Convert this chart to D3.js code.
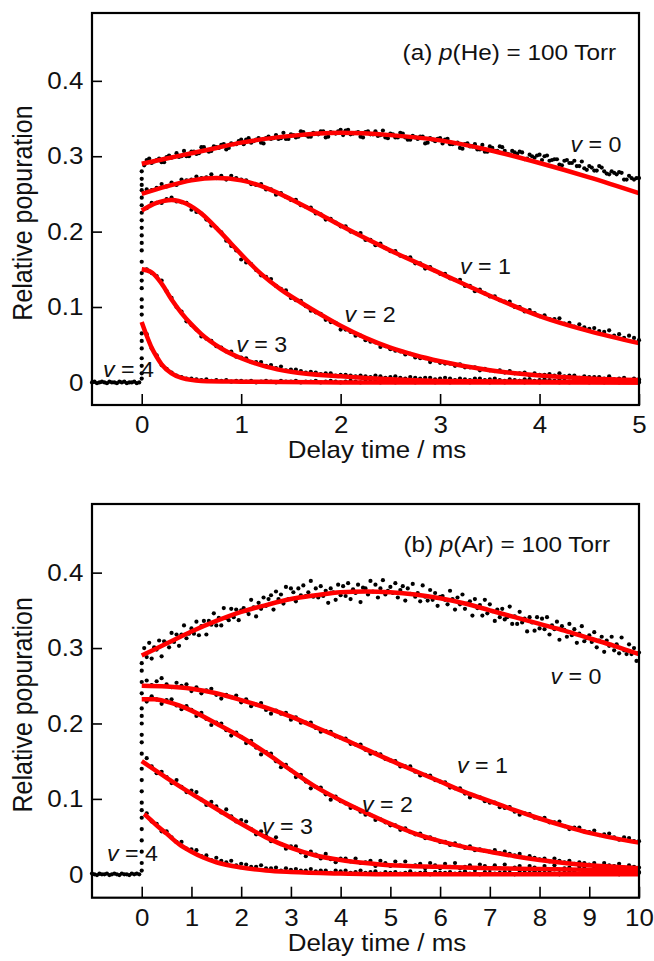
<!DOCTYPE html>
<html>
<head>
<meta charset="utf-8">
<script src="https://cdnjs.cloudflare.com/ajax/libs/d3/7.8.5/d3.min.js"></script>
<style>
body { margin: 0; background: #fff; }
svg text { font-family: "Liberation Sans", Arial, sans-serif; fill: #111; }
</style>
</head>
<body>
<svg id="chart" width="654" height="961"></svg>
<script>
// RELATIVE POPULATION vs DELAY TIME, two panels (He / Ar)

// measured points are written in thousandths (x 0.001)
var MILLI = 0.001;

// --- panel (a), He, one point every 0.05 ms from 0.05 to 5 ms
var heV0 = [295,291,295,292,299,298,304,300,300,306, 303,312,308,307,312,315,309,317,316,322,
            322,318,322,318,324,323,328,324,323,329, 325,333,328,326,330,333,325,332,330,335,
            334,329,331,326,332,329,333,328,325,330, 325,331,325,322,325,326,317,324,320,324,
            322,316,317,311,316,313,316,309,306,313, 307,313,307,302,305,306,296,302,298,302,
            300,294,296,289,294,291,294,287,284,287, 281,287,280,276,278,279,269,274,269,271];
// v=0 in between, from 0.025 ms
var heV0b = [288,297,293,297,292,301,299,299,307,300, 306,304,312,306,313,311,316,311,316,320,
             316,324,320,324,317,326,324,323,331,323, 328,326,332,326,331,329,333,326,331,333,
             328,335,330,332,325,333,329,327,334,324, 329,325,330,322,327,323,326,318,322,323,
             317,323,316,318,310,317,313,309,315,306, 311,307,312,303,307,303,305,297,300,301,
             295,301,295,296,288,295,291,287,293,282, 285,281,285,277,280,276,278,269,271,271];
var heV1 = [256,255,258,263,260,265,262,269,268,269, 273,271,272,276,271,274,269,274,271,269,
            268,263,262,263,256,256,249,251,246,242, 242,235,233,232,224,223,216,217,212,207,
            207,200,198,198,189,189,182,184,178,174, 174,168,166,166,158,158,151,153,148,144,
            144,138,136,136,128,128,121,123,118,114, 114,109,107,107,100,100,94,96,92,88,
            89,84,84,85,78,79,74,77,73,71, 72,68,67,69,62,64,59,62,59,56];
var heV2 = [231,238,238,238,243,245,240,239,238,229, 226,224,216,208,205,199,188,181,175,163,
            159,157,149,142,140,137,128,124,122,112, 109,108,101,95,93,91,83,80,79,70,
            70,67,62,62,56,54,53,47,48,44, 42,41,37,38,33,32,32,27,29,26,
            25,25,22,24,20,20,20,16,18,16, 15,16,13,15,12,12,13,9,12,10,
            10,11,9,12,8,9,9,6,8,7, 7,7,5,8,4,5,6,3,5,4];
var heV3 = [150,145,141,135,121,112,100,94,81,76, 70,61,58,55,48,46,41,41,34,33,
            32,27,27,27,22,23,19,21,16,17, 17,15,13,14,13,11,12,12,9,10,
            10,9,8,9,8,7,9,8,6,7, 8,6,5,7,6,5,6,6,4,5,
            6,5,3,5,4,3,5,5,3,4, 5,3,2,4,3,2,4,4,2,3,
            4,3,2,3,2,1,3,3,1,2, 3,2,1,3,2,1,3,3,1,2];
var heV4 = [64,45,36,23,18,13,9,7,5,5, 4,3,4,2,3,2,3,1,2,2,
            1,2,0,1,2,1,0,2,1,1, 2,0,1,1,2,0,1,2,1,0,
            1,2,1,0,1,1,2,0,1,1, 0,1,2,1,0,1,1,2,0,1,
            1,0,2,1,1,0,1,2,1,0, 2,1,0,1,1,2,0,1,1,0,
            1,2,1,0,1,0,2,1,1,0, 1,1,0,2,1,0,1,1,2,0];
// before the pulse, every 0.025 ms from -0.5 ms
var heBase = [0,1,-1,0,1,0,-1,1,0,0,-1,1,0,1,-1,0,0,1,-1,0];
// points caught during the rise at t = 0
var heRise = [5,12,22,32,45,55,65,90,100,110,125,135,145,160,175,185,195,205,215,225,235,245,255,262,270,280];

// fitted curves (a)
var heFitV0t = [0,0.25,0.5,0.75,1,1.5,2,2.5,3,3.5,4,4.5,5];
var heFitV0 = [.290,.297,.304,.311,.318,.327,.331,.328,.321,.308,.291,.272,.251];
var heFitV1t = [0,0.25,0.5,0.75,1,1.25,1.5,1.75,2,2.5,3,3.5,4,4.5,5];
var heFitV1 = [.250,.260,.268,.271,.268,.258,.243,.226,.208,.175,.145,.115,.088,.068,.052];
var heFitV2t = [0,0.15,0.3,0.45,0.6,0.75,0.9,1.05,1.2,1.4,1.6,1.8,2,2.25,2.5,2.75,3,3.5,4,4.5,5];
var heFitV2 = [.228,.238,.242,.237,.224,.205,.184,.163,.144,.123,.106,.090,.075,.059,.046,.036,.028,.016,.009,.005,.003];
var heFitV3t = [0,0.1,0.2,0.3,0.4,0.5,0.6,0.8,1,1.25,1.5,2,2.5,3,4,5];
var heFitV3 = [.150,.146,.131,.110,.092,.077,.064,.045,.032,.021,.014,.008,.004,.002,.001,0];
var heFitV4t = [0,0.05,0.1,0.15,0.2,0.3,0.4,0.6,1,2,5];
var heFitV4 = [.080,.062,.046,.034,.024,.012,.006,.002,.001,0,0];

// --- panel (b), Ar. v=0 every 0.05 ms, the others every 0.1 ms, up to 10 ms
var arV0 = [300,288,307,286,301,298,310,289,309,307, 301,320,308,318,303,318,330,313,319,326,
            319,335,317,329,336,318,336,331,346,330, 340,330,353,340,337,352,341,351,337,350,
            353,349,345,364,354,342,360,352,367,356, 365,370,351,375,365,371,359,381,365,379,
            374,362,379,370,383,369,374,389,368,379, 367,382,369,376,360,379,374,364,384,370,
            382,369,386,365,378,373,384,361,380,379, 371,389,375,384,367,379,390,371,376,381,
            373,386,367,377,382,363,379,372,385,368, 373,362,383,368,363,377,364,373,356,368,
            369,364,358,376,365,351,367,358,371,352, 359,362,343,365,353,357,343,364,346,358,
            349,336,351,341,352,338,341,355,332,342, 332,348,334,339,322,341,334,323,341,326,
            339,325,341,318,330,325,335,311,329,324, 315,332,317,325,307,319,329,309,313,317,
            308,321,301,310,315,295,310,303,315,297, 305,293,314,297,292,305,292,300,283,294];
var arV1 = [257,251,256,260,252,248,254,250,252,243, 248,240,244,246,238,233,238,235,237,228,
            232,223,225,227,218,213,217,213,214,205, 208,201,201,201,194,189,190,189,183,181,
            180,173,172,172,165,160,161,159,153,151, 150,143,143,143,136,131,132,131,125,123,
            122,115,114,114,107,102,104,102,97,95, 95,89,88,89,83,79,81,80,75,74,
            75,69,69,70,64,60,62,62,57,56, 58,52,53,54,49,46,49,48,44,44];
var arV2 = [229,236,232,226,231,232,224,219,223,218, 210,214,206,198,201,200,191,184,188,182,
            174,177,168,159,162,160,150,142,145,138, 129,132,123,114,116,115,106,99,103,97,
            94,88,88,83,79,79,72,73,69,65, 65,59,61,56,53,54,48,49,46,43,
            43,39,41,38,35,37,32,33,31,30, 32,28,30,27,25,27,22,24,22,20,
            21,17,21,18,16,18,14,16,15,13, 15,11,15,12,11,14,9,12,10,9];
var arV3 = [154,143,134,136,129,121,125,116,109,111, 109,99,92,96,90,82,86,77,70,72,
            70,60,53,57,51,44,49,40,34,37, 37,29,24,30,26,21,27,20,16,21,
            21,17,21,15,16,18,11,18,15,11, 17,12,17,11,12,14,8,15,12,8,
            14,10,15,8,10,12,6,13,11,7, 12,8,13,7,9,11,5,11,9,5,
            11,7,12,6,8,9,3,10,8,4, 10,6,11,5,7,9,2,9,7,3];
var arV4 = [81,70,67,57,57,49,43,43,34,33, 32,24,25,19,22,18,16,18,12,14,
            13,10,10,12,8,8,9,5,8,6, 7,5,5,7,4,5,5,2,5,4,
            5,2,3,5,2,3,4,1,3,2, 3,1,2,4,1,2,3,0,3,2,
            2,3,1,2,4,1,2,0,3,2, 1,2,3,2,0,3,1,2,4,1,
            2,3,1,0,2,3,2,1,3,2, 1,2,4,2,1,0,2,3,1,2];
// before the pulse, every 0.05 ms from -1 ms
var arBase = [1,0,-1,1,0,0,1,-1,0,1,0,-1,1,0,0,-1,1,0,1,0];
var arRise = [5,15,30,45,60,75,85,95,110,125,140,160,175,185,200,210,220,240,255,270,280];

// fitted curves (b)
var arFitV0t = [0,0.5,1,1.5,2,2.5,3,3.5,4,4.5,5,5.5,6,6.5,7,7.5,8,8.5,9,9.5,10];
var arFitV0 = [.290,.306,.322,.336,.348,.357,.365,.370,.374,.375,.374,.371,.366,.359,.350,.341,.332,.323,.313,.303,.292];
var arFitV1t = [0,0.5,1,1.5,2,2.5,3,3.5,4,4.5,5,5.5,6,6.5,7,7.5,8,8.5,9,9.5,10];
var arFitV1 = [.250,.249,.246,.240,.231,.221,.209,.195,.181,.166,.151,.137,.123,.109,.097,.085,.074,.064,.055,.048,.042];
var arFitV2t = [0,0.25,0.5,0.75,1,1.5,2,2.5,3,3.5,4,4.5,5,5.5,6,6.5,7,7.5,8,8.5,9,9.5,10];
var arFitV2 = [.232,.232,.229,.224,.217,.200,.182,.161,.138,.116,.098,.082,.067,.054,.044,.036,.030,.024,.019,.015,.012,.010,.008];
var arFitV3t = [0,0.5,1,1.5,2,2.5,3,3.5,4,4.5,5,6,7,8,9,10];
var arFitV3 = [.150,.128,.107,.087,.067,.049,.035,.025,.019,.015,.012,.010,.008,.007,.006,.006];
var arFitV4t = [0.05,0.2,0.35,0.5,0.75,1,1.25,1.5,2,2.5,3,4,5,10];
var arFitV4 = [.080,.071,.062,.054,.040,.030,.022,.016,.009,.005,.003,.001,0,0];

// labels: [delay time, population] of the text start
var vNames = ["0","1","2","3","4"];
var heLabelPos = [[4.31,.306],[3.20,.144],[2.04,.0805],[0.95,.040],[-0.39,.0076]];
var arLabelPos = [[8.22,.253],[6.34,.135],[4.43,.083],[2.42,.053],[-0.70,.018]];
var yTickValues = [0,0.1,0.2,0.3,0.4];
var heXTicks = [0,1,2,3,4,5];
var arXTicks = [0,1,2,3,4,5,6,7,8,9,10];


// DRAWING AREA
var svg = d3.select("#chart");
var left = 92, right = 639;
var SX = 1.08;   // the original lettering is slightly wide

// series: [values, step, first time]
var panels = [
	{
		xDomain: [-0.5, 5], yDomain: [-0.03, 0.49], top: 13, bottom: 405,
		xTicks: heXTicks, gas: "He", tag: "(a) ", tagAt: [4.77, .428],
		base: heBase, baseStart: -0.5, baseStep: 0.025, rise: heRise,
		series: [[heV0, 0.05, 0.05], [heV0b, 0.05, 0.025], [heV1, 0.05, 0.05], [heV2, 0.05, 0.05],
		         [heV3, 0.05, 0.05], [heV4, 0.05, 0.05]],
		fits: [[heFitV0t, heFitV0], [heFitV1t, heFitV1], [heFitV2t, heFitV2], [heFitV3t, heFitV3], [heFitV4t, heFitV4]],
		labels: heLabelPos
	},
	{
		xDomain: [-1, 10], yDomain: [-0.031, 0.491], top: 504, bottom: 897.7,
		xTicks: arXTicks, gas: "Ar", tag: "(b) ", tagAt: [9.42, .428],
		base: arBase, baseStart: -1, baseStep: 0.05, rise: arRise,
		series: [[arV0, 0.05, 0.05], [arV1, 0.1, 0.1], [arV2, 0.1, 0.1], [arV3, 0.1, 0.1], [arV4, 0.1, 0.1]],
		fits: [[arFitV0t, arFitV0], [arFitV1t, arFitV1], [arFitV2t, arFitV2], [arFitV3t, arFitV3], [arFitV4t, arFitV4]],
		labels: arLabelPos
	}
];

panels.forEach(drawPanel);

function drawPanel(p) {
	var xScale = d3.scaleLinear().domain(p.xDomain).range([left, right]);
	var yScale = d3.scaleLinear().domain(p.yDomain).range([p.bottom, p.top]);
	var g = svg.append("g");

	// POINTS
	var pts = [];
	p.base.forEach(function(v, i) { pts.push([p.baseStart + i * p.baseStep, v * MILLI]); });
	p.rise.forEach(function(v) { pts.push([0, v * MILLI]); });
	p.series.forEach(function(s) {
		s[0].forEach(function(v, i) { pts.push([s[2] + i * s[1], v * MILLI]); });
	});

	g.append("g").selectAll("circle")
		.data(pts)
		.enter()
		.append("circle")
		.attr("cx", function(d) { return xScale(d[0]); })
		.attr("cy", function(d) { return yScale(d[1]); })
		.attr("r", 2.1)
		.style("fill", "#000");

	// FITS
	var line = d3.line()
		.x(function(d) { return xScale(d[0]); })
		.y(function(d) { return yScale(d[1]); })
		.curve(d3.curveMonotoneX);

	p.fits.forEach(function(f) {
		g.append("path")
			.datum(d3.zip(f[0], f[1]))
			.attr("d", line)
			.style("fill", "none")
			.style("stroke", "#ff0000")
			.style("stroke-width", 4.5);
	});

	// AXES (ticks pointing inside)
	var xAxis = g.append("g")
		.attr("transform", "translate(0," + p.bottom + ")")
		.call(d3.axisBottom(xScale).tickValues(p.xTicks).tickSize(-11).tickPadding(11)
			.tickFormat(d3.format("d")));
	var yAxis = g.append("g")
		.attr("transform", "translate(" + left + ",0)")
		.call(d3.axisLeft(yScale).tickValues(yTickValues).tickSize(-10).tickPadding(8)
			.tickFormat(function(d) { return d === 0 ? "0" : d.toFixed(1); }));

	[xAxis, yAxis].forEach(function(a) {
		a.select(".domain").remove();
		a.selectAll(".tick line").style("stroke", "#000").style("stroke-width", 1.6);
		a.selectAll(".tick text")
			.style("font-size", "24px")
			.style("font-family", "'Liberation Sans', Arial, sans-serif")
			.style("fill", "#111")
			.attr("transform", "scale(" + SX + ",1)");
	});

	// FRAME
	g.append("rect")
		.attr("x", left).attr("y", p.top)
		.attr("width", right - left).attr("height", p.bottom - p.top)
		.style("fill", "none").style("stroke", "#000").style("stroke-width", 2.2);

	// TITLES
	g.append("text")
		.attr("transform", "translate(377," + (p.bottom + 53) + ") scale(" + SX + ",1)")
		.attr("text-anchor", "middle")
		.style("font-size", "24px")
		.text("Delay time / ms");

	g.append("text")
		.attr("transform", "translate(32," + ((p.top + p.bottom) / 2 + 4) + ") scale(" + SX + ",1) rotate(-90)")
		.attr("text-anchor", "middle")
		.style("font-size", "25px")
		.text("Relative popuration");

	// PANEL TAG
	var tag = g.append("text")
		.attr("transform", "translate(" + xScale(p.tagAt[0]) + "," + yScale(p.tagAt[1]) + ") scale(" + SX + ",1)")
		.attr("text-anchor", "end")
		.style("font-size", "22.5px");
	tag.append("tspan").text(p.tag);
	tag.append("tspan").style("font-style", "italic").text("p");
	tag.append("tspan").text("(" + p.gas + ") = 100 Torr");

	// v LABELS
	p.labels.forEach(function(pos, i) {
		var t = g.append("text")
			.attr("transform", "translate(" + xScale(pos[0]) + "," + yScale(pos[1]) + ") scale(" + SX + ",1)")
			.style("font-size", "21.5px");
		t.append("tspan").style("font-style", "italic").text("v");
		t.append("tspan").text(" = " + vNames[i]);
	});
}
</script>
</body>
</html>
